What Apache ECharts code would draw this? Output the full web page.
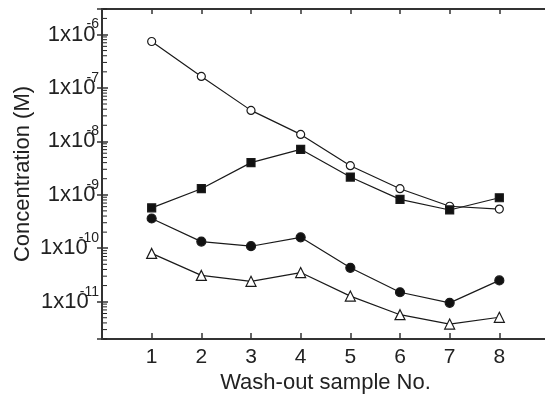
<!DOCTYPE html>
<html>
<head>
<meta charset="utf-8">
<script src="https://cdn.jsdelivr.net/npm/echarts@6/dist/echarts.min.js"></script>
<style>
  html, body { margin: 0; padding: 0; background: #fff; }
  #chart { width: 545px; height: 397px; }
</style>
</head>
<body>
<div id="chart"></div>
<script>
// 样品编号
var sampleNo = [1, 2, 3, 4, 5, 6, 7, 8];
// 四组浓度 (M)
var openCircle = [7.4e-7, 1.64e-7, 3.8e-8, 1.35e-8, 3.5e-9, 1.3e-9, 6.1e-10, 5.4e-10];
var filledSquare = [5.7e-10, 1.3e-9, 4.0e-9, 7.1e-9, 2.15e-9, 8.2e-10, 5.2e-10, 8.8e-10];
var filledCircle = [3.6e-10, 1.33e-10, 1.09e-10, 1.6e-10, 4.3e-11, 1.5e-11, 9.5e-12, 2.5e-11];
var openTriangle = [8.0e-11, 3.1e-11, 2.4e-11, 3.5e-11, 1.27e-11, 5.7e-12, 3.8e-12, 5.1e-12];
// 对数轴小刻度
var minorMantissa = [2, 3, 4, 5, 6, 7, 8, 9];
var minorDecade = [-12, -11, -10, -9, -8, -7, -6];

var yMin = 2e-12, yMax = 3e-6;

function pairs(vals) {
    var out = [];
    for (var i = 0; i < vals.length; i++) out.push([sampleNo[i], vals[i]]);
    return out;
}

var minorTicks = [];
minorDecade.forEach(function (d) {
    minorMantissa.forEach(function (m) {
        var v = m * Math.pow(10, d);
        if (v >= yMin && v <= yMax) minorTicks.push([0, v]);
    });
});

function powLabel(v) {
    var e = Math.log(v) / Math.LN10;
    var r = Math.round(e);
    if (Math.abs(e - r) > 1e-6) return '';
    return '{b|1x10}{s|' + r + '}';
}

var lineCol = '#1a1a1a';
var axisCol = '#333';
var fontName = 'Liberation Sans, Arial, sans-serif';

function makeLine(data, symbol, size, fill) {
    return {
        type: 'line',
        data: pairs(data),
        symbol: symbol,
        symbolSize: size,
        showAllSymbol: true,
        lineStyle: { color: lineCol, width: 1.2 },
        itemStyle: { color: fill, borderColor: lineCol, borderWidth: 1.2 },
        z: 3
    };
}

var Chart = echarts.init(document.getElementById('chart'));
Chart.setOption({
    animation: false,
    textStyle: { fontFamily: fontName },
    grid: { left: 102, right: -4, top: 9, bottom: 58, outerBoundsMode: 'none', containLabel: false },
    xAxis: [
        {
            type: 'value', position: 'bottom', min: 0, max: 9, interval: 1,
            name: 'Wash-out sample No.', nameLocation: 'middle', nameGap: 33,
            nameMoveOverlap: false,
            nameTextStyle: { fontSize: 22, color: '#222', fontFamily: fontName },
            axisLine: { lineStyle: { color: axisCol, width: 2 } },
            axisTick: { inside: true, length: 6, lineStyle: { color: axisCol, width: 1.5 } },
            axisLabel: {
                fontSize: 21, color: '#222', margin: 8,
                formatter: function (v) { return (v >= 1 && v <= 8) ? String(v) : ''; }
            },
            splitLine: { show: false }
        },
        {
            type: 'value', position: 'top', min: 0, max: 9, interval: 1,
            axisLine: { lineStyle: { color: axisCol, width: 2 } },
            axisTick: { inside: true, length: 5, lineStyle: { color: axisCol, width: 1.5 } },
            axisLabel: { show: false },
            splitLine: { show: false }
        }
    ],
    yAxis: [
        {
            type: 'log', logBase: 10, min: yMin, max: yMax, position: 'left',
            name: 'Concentration (M)', nameLocation: 'middle', nameGap: 68,
            nameMoveOverlap: false,
            nameTextStyle: { fontSize: 22, color: '#222', fontFamily: fontName },
            axisLine: { lineStyle: { color: axisCol, width: 2 } },
            axisTick: { inside: true, length: 6, lineStyle: { color: axisCol, width: 1.5 } },
            axisLabel: {
                margin: 3,
                formatter: powLabel,
                rich: {
                    b: { fontSize: 22, color: '#222', lineHeight: 34 },
                    s: { fontSize: 14, color: '#222', lineHeight: 14, verticalAlign: 'top', padding: [0, 0, 0, -9] }
                }
            },
            splitLine: { show: false }
        },
        {
            type: 'log', logBase: 10, min: yMin, max: yMax, position: 'right',
            axisLine: { lineStyle: { color: axisCol, width: 2 } },
            axisTick: { inside: true, length: 5, lineStyle: { color: axisCol, width: 1.5 } },
            axisLabel: { show: false },
            splitLine: { show: false }
        }
    ],
    series: [
        makeLine(openCircle, 'circle', 8, '#fff'),
        makeLine(filledSquare, 'rect', 8, '#111'),
        makeLine(filledCircle, 'circle', 9, '#111'),
        makeLine(openTriangle, 'triangle', 10, '#fff'),
        {
            type: 'custom',
            data: minorTicks,
            clip: false,
            silent: true,
            z: 10,
            renderItem: function (params, api) {
                var p = api.coord([api.value(0), api.value(1)]);
                return {
                    type: 'line',
                    shape: { x1: p[0] + 1, y1: p[1], x2: p[0] + 5, y2: p[1] },
                    style: { stroke: '#222', lineWidth: 1 }
                };
            }
        }
    ]
});
</script>
</body>
</html>
